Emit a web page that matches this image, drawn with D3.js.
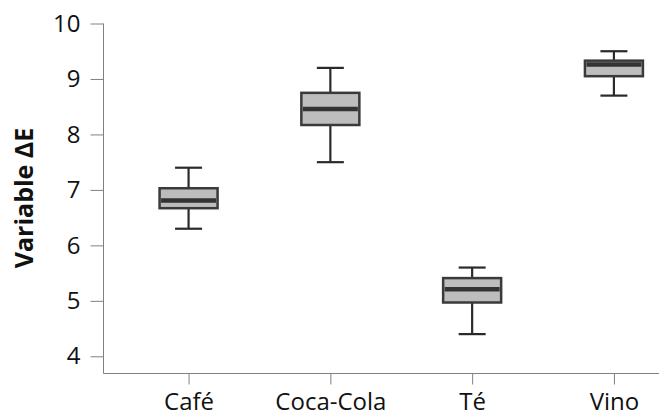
<!DOCTYPE html>
<meta charset="utf-8">
<style>
body { margin: 0; background: #fff; }
text { font-family: "Open Sans", sans-serif; fill: #111; }
.axis path, .axis line { stroke: #808080; }
.box { fill: #bdbdbd; stroke: #3a3a3a; stroke-width: 2.5; }
.median { stroke: #333; stroke-width: 4.5; }
.whisker { stroke: #2a2a2a; stroke-width: 2.2; }
</style>
<svg width="659" height="412"></svg>
<script src="https://d3js.org/d3.v7.min.js"></script>
<script>
// five-number summaries
var categories = ["Café", "Coca-Cola", "Té", "Vino"];
var whiskerLow  = [6.30, 7.50, 4.40, 8.70];
var q1          = [6.67, 8.17, 4.97, 9.05];
var median      = [6.81, 8.46, 5.21, 9.26];
var q3          = [7.03, 8.75, 5.41, 9.33];
var whiskerHigh = [7.40, 9.20, 5.60, 9.50];
var yTicks = [4, 5, 6, 7, 8, 9, 10];

var svg = d3.select("svg");

var x = d3.scalePoint()
    .domain(categories)
    .range([103.5, 699])
    .padding(0.6);

var y = d3.scaleLinear()
    .domain([3.69, 10])
    .range([373.5, 23.5]);

var data = categories.map(function(c, i) {
  return {name: c, lo: whiskerLow[i], q1: q1[i], med: median[i], q3: q3[i], hi: whiskerHigh[i]};
});

svg.append("g")
    .attr("class", "axis")
    .attr("transform", "translate(103.5,0)")
    .call(d3.axisLeft(y).tickValues(yTicks).tickFormat(d3.format("d")).tickSize(13).tickSizeOuter(0).tickPadding(10))
    .call(function(g) { g.select(".domain").attr("d", "M0," + y(10) + "V" + y.range()[0]); })
    .selectAll("text")
    .style("font-size", "24px");

svg.append("g")
    .attr("class", "axis")
    .attr("transform", "translate(0,373.5)")
    .call(d3.axisBottom(x).tickSize(11).tickSizeOuter(0).tickPadding(8))
    .call(function(g) { g.select(".domain").attr("d", "M103.5,0H" + 659); })
    .selectAll("text")
    .style("font-size", "24px");

svg.append("text")
    .attr("transform", "translate(33,198) rotate(-90)")
    .attr("text-anchor", "middle")
    .style("font-size", "25px")
    .style("font-weight", "bold")
    .text("Variable ΔE");

var boxW = 58, capW = 27;

var g = svg.selectAll(".bp")
    .data(data)
  .enter().append("g")
    .attr("class", "bp")
    .attr("transform", function(d) { return "translate(" + x(d.name) + ",0)"; });

g.append("line")
    .attr("class", "whisker")
    .attr("y1", function(d) { return y(d.hi); })
    .attr("y2", function(d) { return y(d.lo); });

g.append("line")
    .attr("class", "whisker")
    .attr("x1", -capW / 2).attr("x2", capW / 2)
    .attr("y1", function(d) { return y(d.hi); })
    .attr("y2", function(d) { return y(d.hi); });

g.append("line")
    .attr("class", "whisker")
    .attr("x1", -capW / 2).attr("x2", capW / 2)
    .attr("y1", function(d) { return y(d.lo); })
    .attr("y2", function(d) { return y(d.lo); });

g.append("rect")
    .attr("class", "box")
    .attr("x", -boxW / 2)
    .attr("width", boxW)
    .attr("y", function(d) { return y(d.q3); })
    .attr("height", function(d) { return y(d.q1) - y(d.q3); });

g.append("line")
    .attr("class", "median")
    .attr("x1", -boxW / 2 + 1.5).attr("x2", boxW / 2 - 1.5)
    .attr("y1", function(d) { return y(d.med); })
    .attr("y2", function(d) { return y(d.med); });
</script>
